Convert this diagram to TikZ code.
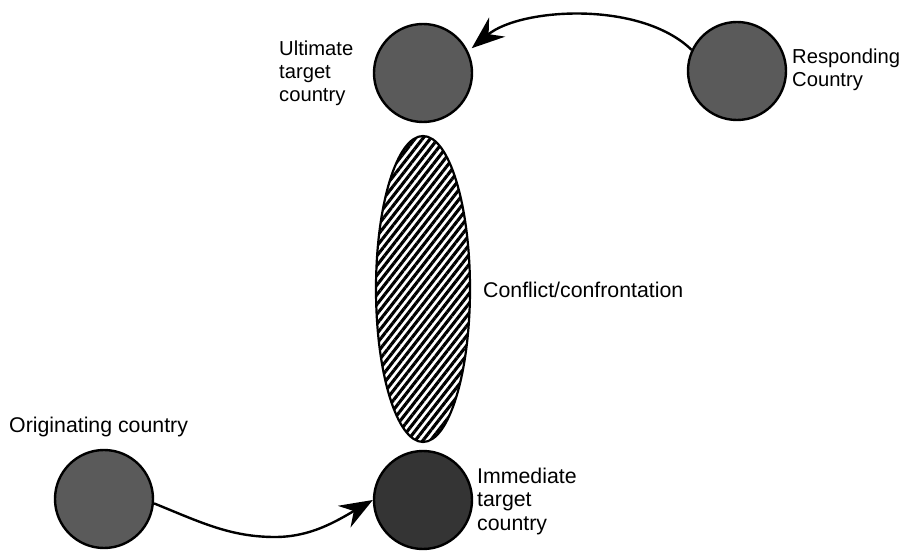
\documentclass[tikz,border=0pt]{standalone}
\usepackage{fontspec}
\setmainfont{Liberation Sans}
\usetikzlibrary{shapes.geometric,arrows.meta,patterns.meta}
\definecolor{cgray}{HTML}{5A5A5A}
\definecolor{cdark}{HTML}{343434}
\begin{document}
\begin{tikzpicture}[x=1pt,y=-1pt,
  country/.style={circle,draw=black,line width=2.4pt,fill=cgray,minimum size=98pt,inner sep=0pt},
  lbl/.style={anchor=base west,inner sep=0pt,align=left,font=\fontsize{21.3}{23.2}\selectfont},
  lbls/.style={lbl,font=\fontsize{20.2}{23.2}\selectfont},
  conn/.style={line width=2.4pt,-{Stealth[length=33pt,width=25pt,inset=11pt]}}]
\useasboundingbox (0,0) rectangle (903,553);
\fill[white] (0,0) rectangle (903,553);
% nodes
\node[country] (ult) at (423,73) {};
\node[country] (resp) at (737,71) {};
\node[country] (orig) at (104,499) {};
\node[country,fill=cdark] (imm) at (423,500) {};
\node[ellipse,draw=black,line width=2.2pt,minimum width=94pt,minimum height=306pt,inner sep=0pt,
  pattern={Lines[angle=52,distance=6pt,line width=3.1pt]}] (conf) at (423,289) {};
% labels (base anchor = baseline of the last line)
\node[lbls] (lult) at (279,102) {Ultimate\\target\\country};
\node[lbls] (lresp) at (792,87) {Responding\\Country};
\node[lbl] (lconf) at (483,298) {Conflict/confrontation};
\node[lbl] (lorig) at (9,432) {Originating country};
\node[lbl] (limm) at (477,530) {Immediate\\target\\country};
% connectors
\draw[conn] (resp.155) .. controls (640,0) and (520,8) .. ([shift={(4,-2)}]ult.27);
\draw[conn] (orig.-5) .. controls (200,522) and (230,537) .. (275,537)
  .. controls (310,537) and (335,522) .. (imm.180);
\end{tikzpicture}
\end{document}
